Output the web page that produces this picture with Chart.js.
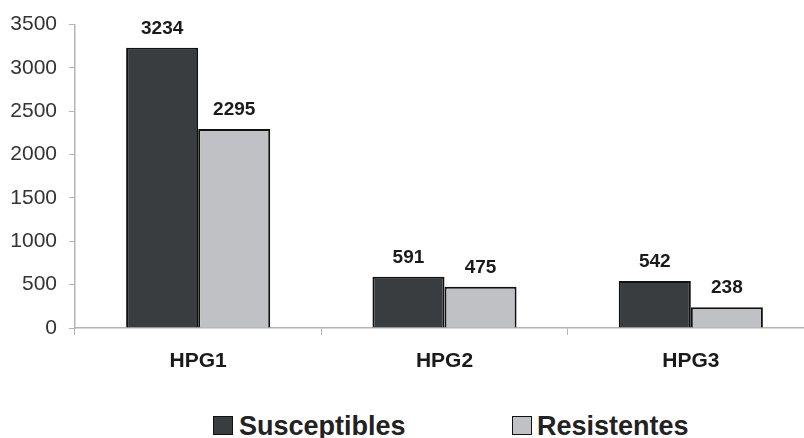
<!DOCTYPE html>
<html>
<head>
<meta charset="utf-8">
<script src="https://cdn.jsdelivr.net/npm/chart.js@4.4.1/dist/chart.umd.min.js"></script>
<style>
  html, body { margin: 0; padding: 0; background: #fff; width: 804px; height: 438px; overflow: hidden; position: relative; }
  #wrap { position: absolute; left: 0; top: 0; width: 814px; height: 400px; }
  .lg { position: absolute; font-family: Arial, "Liberation Sans", sans-serif; font-weight: bold; font-size: 27px; line-height: 27px; color: #222; white-space: nowrap; }
  .box { position: absolute; width: 20px; height: 19px; box-sizing: border-box; border: 1.5px solid #111; }
</style>
</head>
<body>
<div id="wrap"><canvas id="c" width="814" height="400"></canvas></div>
<div class="box" style="left:213px; top:416px; background:#3a3d40;"></div>
<div class="lg" id="lg0" style="left:239px; top:413px;"></div>
<div class="box" style="left:512px; top:416px; background:#c0c1c4;"></div>
<div class="lg" id="lg1" style="left:537px; top:413px;"></div>
<script>
const categories = ["HPG1", "HPG2", "HPG3"];
const seriesNames = ["Susceptibles", "Resistentes"];
const susceptibles = [3234, 591, 542];
const resistentes = [2295, 475, 238];
const yTicks = [0, 500, 1000, 1500, 2000, 2500, 3000, 3500];

document.getElementById("lg0").textContent = seriesNames[0];
document.getElementById("lg1").textContent = seriesNames[1];

const FONT = 'Arial, "Liberation Sans", sans-serif';

const valueLabels = {
  id: "valueLabels",
  afterDatasetsDraw(chart) {
    const ctx = chart.ctx;
    ctx.save();
    ctx.font = "bold 19px " + FONT;
    ctx.fillStyle = "#1a1a1a";
    ctx.textAlign = "center";
    ctx.textBaseline = "alphabetic";
    chart.data.datasets.forEach((ds, di) => {
      const meta = chart.getDatasetMeta(di);
      meta.data.forEach((el, i) => {
        ctx.fillText(String(ds.data[i]), el.x, el.y - 14);
      });
    });
    ctx.restore();
  }
};

new Chart(document.getElementById("c"), {
  type: "bar",
  data: {
    labels: categories,
    datasets: [
      { label: seriesNames[0], data: susceptibles, backgroundColor: "#3a3d40", borderColor: "#111", borderWidth: 2, barPercentage: 1, categoryPercentage: 0.585 },
      { label: seriesNames[1], data: resistentes, backgroundColor: "#c0c1c4", borderColor: "#111", borderWidth: 2, barPercentage: 1, categoryPercentage: 0.585 }
    ]
  },
  options: {
    responsive: false,
    animation: false,
    devicePixelRatio: 1,
    layout: { padding: { top: 24, left: 0, right: 0, bottom: 0 } },
    plugins: { legend: { display: false }, tooltip: { enabled: false } },
    scales: {
      x: {
        offset: true,
        grid: { display: true, drawOnChartArea: false, offset: true, tickLength: 7, color: "#b4b4b4" },
        border: { display: true, color: "#b4b4b4", width: 1.5 },
        ticks: { color: "#1a1a1a", font: { family: FONT, size: 21, weight: "bold" }, padding: 14 },
        afterFit(scale) { scale.height = 72; }
      },
      y: {
        min: 0, max: 3500,
        afterBuildTicks(scale) { scale.ticks = yTicks.map(v => ({ value: v })); },
        grid: { display: true, drawOnChartArea: false, tickLength: 6, color: "#b4b4b4" },
        border: { display: true, color: "#b4b4b4", width: 1.5 },
        ticks: { color: "#333", font: { family: FONT, size: 21 }, padding: 12, callback: (v) => String(v) },
        afterFit(scale) { scale.width = 75; }
      }
    }
  },
  plugins: [valueLabels]
});
</script>
</body>
</html>
